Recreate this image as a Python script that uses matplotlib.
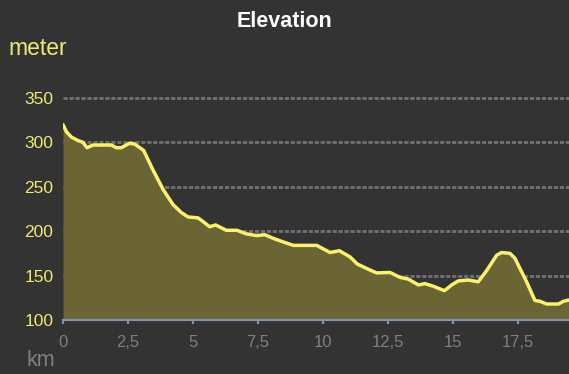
import matplotlib
matplotlib.use('Agg')
import matplotlib.pyplot as plt

# 距離(km)と標高(m)
distance_km = [0.0, 0.13, 0.32, 0.58, 0.77, 0.92, 1.15, 1.86, 2.05, 2.24, 2.56, 2.76,
               3.1, 3.46, 3.85, 4.23, 4.55, 4.81, 5.19, 5.38, 5.64, 5.87, 6.28, 6.69,
               7.05, 7.44, 7.76, 8.08, 8.46, 8.86, 9.76, 10.27, 10.63, 11.04, 11.32,
               11.68, 12.06, 12.58, 12.96, 13.28, 13.67, 13.92, 14.24, 14.67, 14.95,
               15.2, 15.59, 15.97, 16.3, 16.68, 16.87, 17.19, 17.38, 17.83, 18.15,
               18.35, 18.6, 19.05, 19.24, 19.46]
elevation_m = [320, 312, 306, 302, 300, 294, 297, 297, 294, 294, 299, 298,
               291, 269, 247, 230, 221, 216, 215, 211, 205, 207, 201, 201,
               197, 195, 196, 192, 188, 184, 184, 176, 178, 171, 163,
               158, 153, 153.5, 148, 146, 139.5, 141, 138, 133, 139.5,
               144, 145, 143, 156, 173, 176, 175, 169.5, 143, 122,
               121, 118, 118, 121, 122.5]

x_ticks = [0, 2.5, 5, 7.5, 10, 12.5, 15, 17.5]
x_tick_labels = ['0', '2,5', '5', '7,5', '10', '12,5', '15', '17,5']
y_ticks = [100, 150, 200, 250, 300, 350]

BG = '#333333'
LINE = '#fdf06a'
FILL = '#6b6536'
YELLOW_TXT = '#f2e870'
GRAY_TXT = '#7f7f7f'
AXIS = '#8391a6'

plt.rcParams['font.family'] = ['Liberation Sans', 'DejaVu Sans']

fig = plt.figure(figsize=(5.69, 3.74), dpi=100, facecolor=BG)
ax = fig.add_axes([63 / 569, 1 - 320 / 374, 1 - 63 / 569, (320 - 87.3) / 374])
ax.set_facecolor(BG)

ax.fill_between(distance_km, elevation_m, 100, color=FILL, linewidth=0, zorder=2)
ax.plot(distance_km, elevation_m, color=LINE, linewidth=2.5, solid_capstyle='round',
        solid_joinstyle='round', zorder=3)

ax.set_xlim(0, 19.46)
ax.set_ylim(100, 362)

# グリッド（破線）
for y in y_ticks[1:]:
    ax.axhline(y, color='#6f6f6f', linewidth=2.1, linestyle=(0, (1.45, 0.6)), zorder=1)

for side in ['top', 'right', 'left']:
    ax.spines[side].set_visible(False)
ax.spines['bottom'].set_color(AXIS)
ax.spines['bottom'].set_linewidth(1.6)
ax.spines['bottom'].set_zorder(4)

ax.set_xticks(x_ticks)
ax.set_xticklabels(x_tick_labels)
ax.set_yticks(y_ticks)
ax.tick_params(axis='x', colors=AXIS, length=3, width=1.6, pad=8, labelsize=12,
               labelcolor=GRAY_TXT)
ax.tick_params(axis='y', length=0, pad=7, labelsize=12.5, labelcolor=YELLOW_TXT)

fig.text(0.5, 1 - 27 / 374, 'Elevation', color='white', fontsize=15.5, fontweight='bold',
         ha='center', va='baseline')
fig.text(8 / 569, 1 - 55 / 374, 'meter', color=YELLOW_TXT, fontsize=16.5, ha='left',
         va='baseline')
fig.text(27 / 569, 1 - 366 / 374, 'km', color=GRAY_TXT, fontsize=15.5, ha='left',
         va='baseline')

fig.savefig('out.png', dpi=100, facecolor=BG)
